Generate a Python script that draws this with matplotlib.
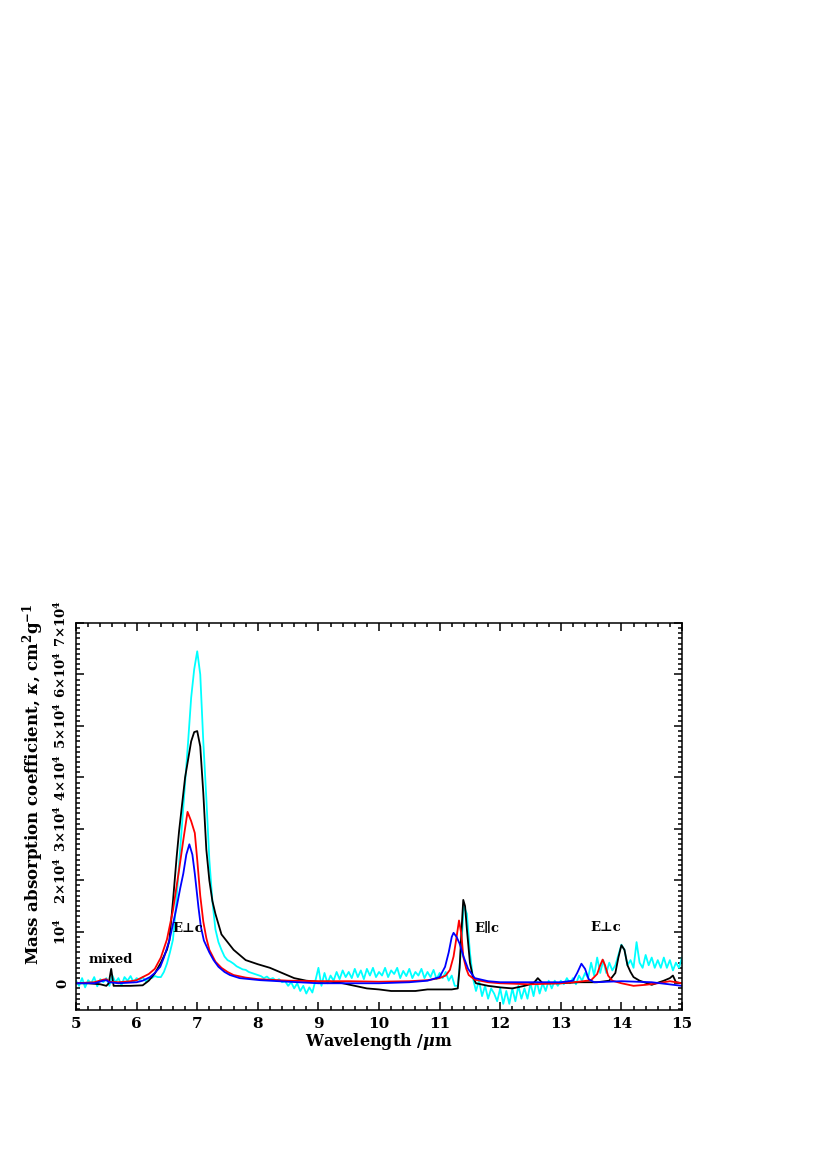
import numpy as np
import matplotlib
matplotlib.use("Agg")
import matplotlib.pyplot as plt
from matplotlib.ticker import MultipleLocator, FuncFormatter

plt.rcParams['font.family'] = ['DejaVu Serif', 'DejaVu Sans']
plt.rcParams['font.weight'] = 'bold'
plt.rcParams['mathtext.fontset'] = 'dejavuserif'
plt.rcParams['mathtext.default'] = 'bf'

# kappa values in units of 1e4 cm^2 g^-1
wl_black = [5.0, 5.2, 5.4, 5.5, 5.54, 5.58, 5.62, 5.7, 5.9, 6.1, 6.2, 6.3, 6.4, 6.5,
            6.54, 6.6, 6.66, 6.7, 6.8, 6.9, 6.95, 7.0, 7.05, 7.1, 7.15, 7.2, 7.25,
            7.3, 7.4, 7.5, 7.6, 7.7, 7.8, 8.0, 8.2, 8.4, 8.6, 8.8, 9.0, 9.2, 9.4,
            9.6, 9.8, 10.0, 10.2, 10.4, 10.6, 10.8, 11.0, 11.2, 11.3, 11.33, 11.36,
            11.39, 11.42, 11.45, 11.5, 11.55, 11.6, 11.8, 12.0, 12.2, 12.4, 12.55,
            12.62, 12.7, 13.0, 13.3, 13.6, 13.8, 13.9, 13.95, 14.0, 14.05, 14.1,
            14.15, 14.2, 14.3, 14.5, 14.7, 14.8, 14.85, 14.9, 15.0]
k_black = [0.0, 0.0, -0.02, -0.05, 0.0, 0.28, -0.05, -0.05, -0.05, -0.04, 0.05, 0.19, 0.4, 0.65,
           0.83, 1.6, 2.45, 2.95, 4.0, 4.7, 4.88, 4.9, 4.6, 3.7, 2.6, 2.0, 1.6,
           1.35, 0.95, 0.8, 0.65, 0.55, 0.45, 0.37, 0.3, 0.2, 0.1, 0.05, 0.03, 0.03, 0.0,
           -0.05, -0.1, -0.12, -0.15, -0.15, -0.15, -0.12, -0.12, -0.12, -0.1, 0.3, 1.0,
           1.62, 1.5, 1.05, 0.4, 0.12, 0.0, -0.05, -0.08, -0.1, -0.05, 0.0,
           0.1, 0.0, 0.0, 0.02, 0.02, 0.05, 0.2, 0.5, 0.74, 0.65, 0.35,
           0.22, 0.12, 0.05, -0.03, 0.05, 0.1, 0.15, 0.02, 0.0]

wl_red = [5.0, 5.3, 5.45, 5.5, 5.55, 5.7, 5.9, 6.0, 6.1, 6.2, 6.3, 6.4, 6.5, 6.6, 6.7,
          6.77, 6.84, 6.9, 6.96, 7.0, 7.05, 7.1, 7.15, 7.2, 7.3, 7.4, 7.5, 7.6, 7.8,
          8.0, 8.5, 9.0, 9.5, 10.0, 10.5, 10.8, 11.0, 11.1, 11.17, 11.23, 11.28, 11.32,
          11.36, 11.39, 11.44, 11.48, 11.58, 11.8, 12.0, 12.5, 13.0, 13.3, 13.5, 13.6,
          13.65, 13.69, 13.73, 13.78, 13.85, 14.0, 14.2, 14.4, 14.6, 14.8, 15.0]
k_red = [0.0, 0.02, 0.07, 0.08, 0.03, 0.02, 0.04, 0.06, 0.12, 0.18, 0.28, 0.5, 0.85, 1.42, 2.2,
         2.78, 3.33, 3.15, 2.92, 2.4, 1.7, 1.2, 0.88, 0.65, 0.42, 0.3, 0.22, 0.16, 0.11,
         0.08, 0.05, 0.04, 0.04, 0.03, 0.04, 0.06, 0.1, 0.15, 0.26, 0.52, 0.9, 1.22,
         0.95, 0.52, 0.28, 0.16, 0.07, 0.02, 0.0, -0.02, 0.0, 0.03, 0.06, 0.18,
         0.35, 0.46, 0.35, 0.15, 0.05, 0.0, -0.05, -0.03, 0.0, 0.04, 0.0]

wl_blue = [5.0, 5.3, 5.45, 5.5, 5.55, 5.7, 6.0, 6.1, 6.22, 6.3, 6.39, 6.45, 6.54, 6.6,
           6.66, 6.72, 6.77, 6.82, 6.87, 6.92, 6.96, 7.02, 7.06, 7.11, 7.2, 7.27, 7.35,
           7.45, 7.54, 7.7, 8.04, 8.5, 9.0, 9.5, 10.0, 10.5, 10.8, 11.0, 11.09, 11.15,
           11.2, 11.23, 11.28, 11.33, 11.4, 11.47, 11.58, 11.8, 12.0, 12.5, 13.0, 13.2,
           13.27, 13.34, 13.4, 13.46, 13.55, 14.0, 14.5, 15.0]
k_blue = [0.0, 0.0, 0.05, 0.06, 0.02, 0.0, 0.02, 0.05, 0.12, 0.2, 0.32, 0.5, 0.83, 1.15,
          1.48, 1.85, 2.13, 2.5, 2.7, 2.5, 2.13, 1.48, 1.1, 0.83, 0.6, 0.45, 0.32,
          0.22, 0.16, 0.1, 0.06, 0.03, 0.0, 0.0, 0.0, 0.02, 0.05, 0.12, 0.32, 0.6,
          0.9, 0.98, 0.9, 0.77, 0.5, 0.28, 0.1, 0.04, 0.02, 0.02, 0.02, 0.05,
          0.2, 0.38, 0.28, 0.08, 0.02, 0.04, 0.02, -0.05]

# cyan spectrum sampled every 0.05 um from 5 to 15
k_cyan = [
    0.05, -0.05, 0.10, -0.08, 0.06, 0.00, 0.12, -0.06, 0.08, 0.02,    # 5.00-5.45
    0.10, -0.05, 0.15, 0.02, 0.10, -0.04, 0.12, 0.05, 0.14, 0.02,     # 5.50-5.95
    0.10, 0.06, 0.12, 0.04, 0.10, 0.10, 0.14, 0.12, 0.12, 0.22,       # 6.00-6.45
    0.38, 0.60, 0.85, 1.50, 2.30, 3.10, 3.90, 4.70, 5.55, 6.10,       # 6.50-6.95
    6.45, 6.00, 4.70, 3.60, 2.40, 1.60, 1.05, 0.80, 0.65, 0.52,       # 7.00-7.45
    0.45, 0.42, 0.38, 0.33, 0.30, 0.27, 0.26, 0.22, 0.20, 0.18,       # 7.50-7.95
    0.16, 0.14, 0.10, 0.13, 0.08, 0.10, 0.05, 0.08, 0.02, 0.04,       # 8.00-8.45
    -0.05, 0.02, -0.10, 0.00, -0.15, -0.05, -0.20, -0.08, -0.18, 0.05,  # 8.50-8.95
    0.30, -0.05, 0.20, 0.00, 0.15, 0.05, 0.22, 0.08, 0.25, 0.12,      # 9.00-9.45
    0.22, 0.10, 0.28, 0.12, 0.25, 0.08, 0.28, 0.15, 0.30, 0.12,       # 9.50-9.95
    0.22, 0.15, 0.30, 0.12, 0.25, 0.18, 0.30, 0.10, 0.24, 0.14,       # 10.00-10.45
    0.28, 0.10, 0.22, 0.15, 0.28, 0.10, 0.22, 0.12, 0.26, 0.08,       # 10.50-10.95
    0.20, 0.10, 0.22, 0.05, 0.15, -0.05, -0.05, 0.60, 1.50, 1.35,     # 11.00-11.45
    0.60, 0.10, -0.15, 0.05, -0.25, -0.05, -0.30, -0.10, -0.20, -0.35,  # 11.50-11.95
    -0.10, -0.40, -0.15, -0.40, -0.10, -0.35, -0.05, -0.30, -0.10, -0.30,  # 12.00-12.45
    0.00, -0.25, 0.05, -0.20, 0.00, -0.15, 0.05, -0.10, 0.05, -0.05,  # 12.50-12.95
    0.05, -0.02, 0.10, 0.00, 0.10, -0.02, 0.15, 0.05, 0.20, 0.10,     # 13.00-13.45
    0.40, 0.15, 0.50, 0.20, 0.45, 0.20, 0.40, 0.25, 0.35, 0.55,       # 13.50-13.95
    0.75, 0.65, 0.35, 0.45, 0.30, 0.80, 0.40, 0.30, 0.55, 0.35,       # 14.00-14.45
    0.50, 0.30, 0.45, 0.30, 0.50, 0.30, 0.45, 0.25, 0.40, 0.30,       # 14.50-14.95
    0.50,                                                             # 15.00
]
wl_cyan = np.linspace(5.0, 15.0, len(k_cyan))

labels = ["mixed", "E\u22a5c", "E\u2225c", "E\u22a5c"]
label_wl = [5.58, 6.84, 11.78, 13.74]
label_k = [0.47, 1.07, 1.07, 1.09]

fig = plt.figure(figsize=(8.3, 11.75), dpi=100)
ax = fig.add_axes([0.0916, 0.1404, 0.7301, 0.3294])

scale = 1e4
lw = 1.3
ax.plot(wl_cyan, np.array(k_cyan) * scale, color='#00ffff', lw=lw)
ax.plot(wl_black, np.array(k_black) * scale, color='black', lw=lw)
ax.plot(wl_red, np.array(k_red) * scale, color='#ff0000', lw=lw)
ax.plot(wl_blue, np.array(k_blue) * scale, color='#0000ff', lw=lw)

for s, xw, yk in zip(labels, label_wl, label_k):
    ax.text(xw, yk * scale, s, ha='center', va='center', fontsize=9.5,
            fontweight='bold')

ax.set_xlim(5, 15)
ax.set_ylim(-5200, 70000)

ax.xaxis.set_major_locator(MultipleLocator(1))
ax.xaxis.set_minor_locator(MultipleLocator(0.2))
ax.yaxis.set_major_locator(MultipleLocator(10000))
ax.yaxis.set_minor_locator(MultipleLocator(1000))


def ylab(v, pos):
    n = int(round(v / 1e4))
    if n == 0:
        return "0"
    if n == 1:
        return "10$^{4}$"
    return f"{n}\u00d710$^{{4}}$"


ax.yaxis.set_major_formatter(FuncFormatter(ylab))
ax.tick_params(which='both', direction='in', top=True, right=True, width=1.1)
ax.tick_params(which='major', length=6, labelsize=11, pad=5)
ax.tick_params(axis='y', which='major', labelsize=9.5)
ax.tick_params(which='minor', length=3)
for lab in ax.get_yticklabels():
    lab.set_rotation(90)
    lab.set_va('center')
for sp in ax.spines.values():
    sp.set_linewidth(1.1)

ax.set_xlabel(r"Wavelength /$\mathit{\mu}$m", fontsize=11.5, fontweight='bold', labelpad=0)
ax.set_ylabel(r"Mass absorption coefficient, $\mathit{\kappa}$, cm$^{2}$g$^{-1}$",
              fontsize=12, fontweight='bold')
ax.yaxis.set_label_coords(-0.05, 0.584)

fig.savefig("out.png", dpi=100)
